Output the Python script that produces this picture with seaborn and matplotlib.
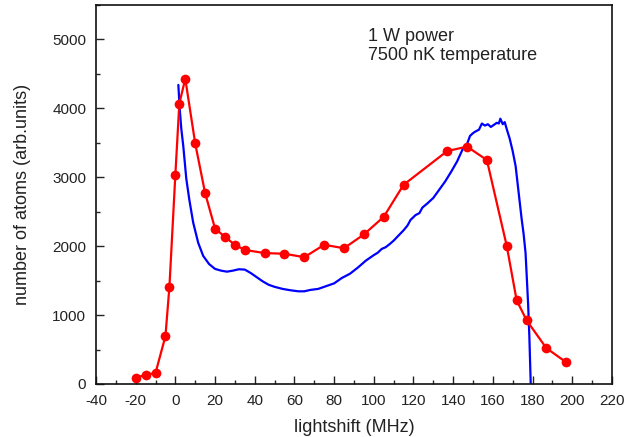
import numpy as np
import pandas as pd
import matplotlib
matplotlib.use("Agg")
import matplotlib.pyplot as plt
import seaborn as sns
from matplotlib.ticker import MultipleLocator

# measured data (red points)
meas_x = [-20, -15, -10, -5, -3, 0, 2, 5, 10, 15, 20, 25, 30, 35, 45, 55, 65,
          75, 85, 95, 105, 115, 137, 147, 157, 167, 172, 177, 187, 197]
meas_y = [90, 135, 160, 695, 1410, 3040, 4070, 4430, 3490, 2770, 2255, 2135, 2020,
          1945, 1900, 1890, 1840, 2020, 1970, 2170, 2425, 2890, 3380, 3445, 3250,
          2005, 1215, 925, 520, 315]

# simulated curve (blue)
sim_x = [1.5, 2.2, 3.0, 4.0, 5.5, 7.0, 9.0, 11.5, 14.0, 17.0, 20.0, 23.0, 26.0,
         29.0, 32.0, 35.0, 38.0, 41.0, 44.0, 47.0, 50.0, 54.0, 58.0, 62.0, 65.0,
         68.0, 72.0, 76.0, 80.0, 84.0, 88.0, 92.0, 96.0, 100.0, 102.0, 104.0,
         106.0, 108.0, 110.0, 112.0, 115.0, 117.0, 118.5, 121.0, 123.0, 124.5,
         127.0, 130.0, 133.0, 136.0, 139.0, 142.0, 145.0, 147.0, 148.5, 150.0,
         151.0, 153.0, 154.5, 156.0, 157.5, 159.0, 160.5, 162.0, 163.0, 163.8,
         165.0, 166.0, 167.0, 168.5, 170.0, 171.5, 173.0, 174.5, 175.5, 176.5,
         177.2, 177.8, 178.4, 178.8, 179.1]
sim_y = [4340, 3990, 3700, 3450, 2980, 2680, 2340, 2050, 1860, 1740, 1670, 1645,
         1630, 1645, 1665, 1660, 1610, 1550, 1490, 1440, 1410, 1380, 1360, 1345,
         1345, 1365, 1380, 1420, 1460, 1540, 1600, 1690, 1790, 1870, 1905, 1960,
         1985, 2030, 2080, 2140, 2230, 2300, 2380, 2450, 2480, 2560, 2620, 2700,
         2820, 2940, 3080, 3230, 3420, 3480, 3600, 3640, 3660, 3690, 3780, 3750,
         3770, 3730, 3760, 3790, 3780, 3850, 3770, 3800, 3700, 3560, 3380, 3160,
         2780, 2400, 2180, 1900, 1500, 1150, 700, 300, 0]

df_meas = pd.DataFrame({"x": meas_x, "y": meas_y})
df_sim = pd.DataFrame({"x": sim_x, "y": sim_y})

sns.set_style("ticks")
plt.rcParams['font.family'] = ['Liberation Sans', 'DejaVu Sans']
plt.rcParams['axes.unicode_minus'] = False

fig = plt.figure(figsize=(6.25, 4.37), dpi=100)
ax = fig.add_axes([0.1536, 0.1213, 0.979 - 0.1536, 0.9886 - 0.1213])

sns.lineplot(data=df_sim, x="x", y="y", ax=ax, color="#0000ff", linewidth=1.6,
             sort=False, estimator=None)
sns.lineplot(data=df_meas, x="x", y="y", ax=ax, color="#ff0000", linewidth=1.6,
             marker="o", markersize=7, markeredgewidth=0, sort=False, estimator=None)

ax.set_xlim(-40, 220)
ax.set_ylim(0, 5500)
ax.xaxis.set_major_locator(MultipleLocator(20))
ax.xaxis.set_minor_locator(MultipleLocator(10))
ax.yaxis.set_major_locator(MultipleLocator(1000))
ax.yaxis.set_minor_locator(MultipleLocator(500))
ax.tick_params(which="major", direction="in", length=6, width=1.0, labelsize=11,
               colors="#222222", top=False, right=False, pad=7)
ax.tick_params(which="minor", direction="in", length=3, width=1.0,
               top=False, right=False)
ax.set_yticks([0, 1000, 2000, 3000, 4000, 5000])
for s in ax.spines.values():
    s.set_visible(True)
    s.set_linewidth(1.2)
    s.set_color("#111111")

ax.set_xlabel("lightshift (MHz)", fontsize=13, labelpad=8, color="#222222")
ax.set_ylabel("number of atoms (arb.units)", fontsize=13, labelpad=15, color="#222222")

ax.text(0.527, 0.94, "1 W power\n7500 nK temperature", transform=ax.transAxes,
        fontsize=13, va="top", ha="left", linespacing=1.15, color="#222222")

fig.savefig("out.png", dpi=100)
